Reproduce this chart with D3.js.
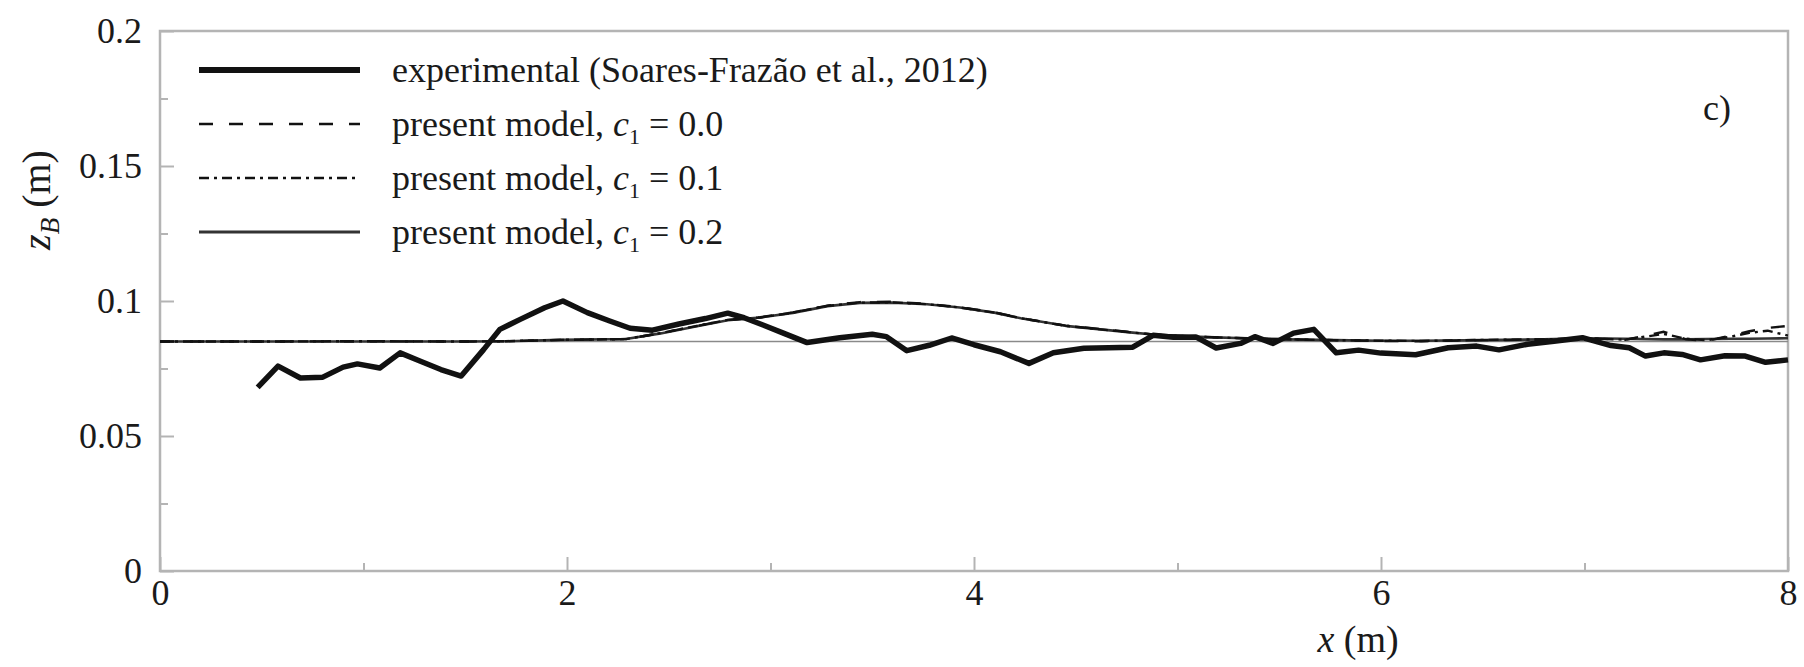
<!DOCTYPE html>
<html>
<head>
<meta charset="utf-8">
<script src="https://cdn.jsdelivr.net/npm/d3@7"></script>
<style>
  html, body { margin: 0; padding: 0; background: #fff; }
  svg { display: block; }
  text { font-family: "Liberation Serif", "Times New Roman", serif; fill: #1a1a1a; }
</style>
</head>
<body>
<svg id="chart" width="1804" height="667"></svg>
<script>
// Experimental bed profile (Soares-Frazão et al., 2012)
const expX = [0.48,0.58,0.69,0.80,0.90,0.97,1.08,1.18,1.28,1.38,1.48,1.59,1.67,1.77,1.89,1.98,2.10,2.21,2.31,2.42,2.55,2.68,2.79,2.87,2.96,3.06,3.18,3.34,3.50,3.57,3.67,3.78,3.89,4.00,4.13,4.27,4.39,4.54,4.78,4.88,4.98,5.09,5.19,5.31,5.38,5.47,5.57,5.67,5.78,5.89,6.00,6.17,6.33,6.47,6.58,6.72,6.85,6.99,7.13,7.22,7.30,7.39,7.48,7.57,7.69,7.79,7.89,8.00];
const expZ = [0.0680,0.0759,0.0715,0.0718,0.0755,0.0767,0.0752,0.0808,0.0777,0.0746,0.0722,0.0820,0.0895,0.0932,0.0975,0.1000,0.0957,0.0926,0.0899,0.0892,0.0915,0.0935,0.0955,0.0938,0.0912,0.0882,0.0846,0.0864,0.0877,0.0868,0.0816,0.0836,0.0863,0.0838,0.0812,0.0769,0.0808,0.0825,0.0829,0.0873,0.0866,0.0867,0.0826,0.0843,0.0868,0.0843,0.0881,0.0895,0.0808,0.0818,0.0807,0.0801,0.0827,0.0833,0.0819,0.0840,0.0851,0.0864,0.0835,0.0827,0.0796,0.0808,0.0802,0.0782,0.0797,0.0796,0.0773,0.0782];

// Model results for three values of c1
const modelX  = [0,0.50,1.00,1.50,1.70,1.97,2.29,2.46,2.62,2.79,2.95,3.11,3.28,3.44,3.60,3.77,3.93,4.10,4.23,4.45,4.78,4.88,5.11,5.44,5.77,6.00,6.20,6.50,6.80,7.00,7.20,7.39,7.50,7.60,7.72,7.81,7.90,8.00];
const modelC0 = [0.0850,0.0850,0.0851,0.0850,0.0851,0.0856,0.0859,0.0881,0.0905,0.0930,0.0940,0.0958,0.0983,0.0996,0.0997,0.0989,0.0977,0.0958,0.0937,0.0909,0.0884,0.0876,0.0867,0.0860,0.0855,0.0852,0.0851,0.0855,0.0857,0.0863,0.0856,0.0886,0.0858,0.0852,0.0872,0.0888,0.0900,0.0908];
const modelC1 = [0.0850,0.0850,0.0851,0.0850,0.0851,0.0856,0.0859,0.0881,0.0905,0.0930,0.0939,0.0957,0.0982,0.0994,0.0995,0.0988,0.0976,0.0957,0.0936,0.0908,0.0883,0.0876,0.0867,0.0859,0.0855,0.0853,0.0852,0.0856,0.0858,0.0862,0.0857,0.0878,0.0860,0.0855,0.0868,0.0882,0.0890,0.0872];
const modelC2 = [0.0850,0.0850,0.0850,0.0850,0.0851,0.0856,0.0859,0.0880,0.0904,0.0929,0.0939,0.0956,0.0981,0.0993,0.0994,0.0988,0.0976,0.0957,0.0936,0.0908,0.0883,0.0876,0.0867,0.0859,0.0855,0.0853,0.0853,0.0855,0.0858,0.0862,0.0860,0.0858,0.0858,0.0859,0.0860,0.0860,0.0861,0.0862];

// Initial bed level
const bedX = [0, 8];
const bedZ = [0.085, 0.085];

const xTicks = [0, 2, 4, 6, 8];
const xMinor = [1, 3, 5, 7];
const yTicks = [0, 0.05, 0.1, 0.15, 0.2];
const yMinor = [0.025, 0.075, 0.125, 0.175];
const yTickLabels = ["0", "0.05", "0.1", "0.15", "0.2"];

const legendLabels = [
  { main: "experimental (Soares-Frazão et al., 2012)" },
  { main: "present model, ", c: "0.0" },
  { main: "present model, ", c: "0.1" },
  { main: "present model, ", c: "0.2" }
];

const svg = d3.select("#chart");
const plotLeft = 160, plotRight = 1788, plotTop = 31, plotBottom = 571;

const x = d3.scaleLinear().domain([0, 8]).range([plotLeft, plotRight]);
const y = d3.scaleLinear().domain([0, 0.2]).range([plotBottom, plotTop]);

const frameColor = "#b4b4b4";
const serif = "'Liberation Serif', 'Times New Roman', serif";
const fs = 36;

// Plot frame
svg.append("rect")
  .attr("x", plotLeft).attr("y", plotTop)
  .attr("width", plotRight - plotLeft).attr("height", plotBottom - plotTop)
  .attr("fill", "none").attr("stroke", frameColor).attr("stroke-width", 2.5);

// Axes with inward ticks
const gx = svg.append("g").attr("transform", `translate(0,${plotBottom})`)
  .call(d3.axisBottom(x).tickValues(xTicks).tickFormat(d3.format("d")).tickSize(-14).tickPadding(8));
const gxm = svg.append("g").attr("transform", `translate(0,${plotBottom})`)
  .call(d3.axisBottom(x).tickValues(xMinor).tickFormat("").tickSize(-8));
const gy = svg.append("g").attr("transform", `translate(${plotLeft},0)`)
  .call(d3.axisLeft(y).tickValues(yTicks).tickFormat((d, i) => yTickLabels[i]).tickSize(-14).tickPadding(18));
const gym = svg.append("g").attr("transform", `translate(${plotLeft},0)`)
  .call(d3.axisLeft(y).tickValues(yMinor).tickFormat("").tickSize(-8));

[gx, gxm, gy, gym].forEach(g => {
  g.attr("font-family", serif).attr("font-size", fs);
  g.select(".domain").remove();
  g.selectAll(".tick line").attr("stroke", frameColor).attr("stroke-width", 2);
  g.selectAll(".tick text").style("font-family", serif).style("font-size", fs + "px").attr("fill", "#1a1a1a");
});

// Data lines
const line = d3.line().x(d => x(d[0])).y(d => y(d[1]));
const zip = (a, b) => a.map((v, i) => [v, b[i]]);

svg.append("path").datum(zip(bedX, bedZ)).attr("d", line)
  .attr("fill", "none").attr("stroke", "#8a8a8a").attr("stroke-width", 1.5);

const series = [
  { data: zip(modelX, modelC2), stroke: "#333", width: 2.6, dash: null },
  { data: zip(modelX, modelC1), stroke: "#111", width: 2.4, dash: "10,5,3,5" },
  { data: zip(modelX, modelC0), stroke: "#111", width: 2.4, dash: "14,16" },
  { data: zip(expX, expZ), stroke: "#111", width: 5.5, dash: null }
];
series.forEach(s => {
  svg.append("path").datum(s.data).attr("d", line)
    .attr("fill", "none").attr("stroke", s.stroke).attr("stroke-width", s.width)
    .attr("stroke-linejoin", "round")
    .attr("stroke-dasharray", s.dash);
});

// Legend
const legendStyles = [
  { stroke: "#111", width: 6, dash: null },
  { stroke: "#111", width: 2.6, dash: "14,16" },
  { stroke: "#111", width: 2.6, dash: "10,5,3,5" },
  { stroke: "#333", width: 3, dash: null }
];
const rowY = [70, 124, 178, 232];
legendLabels.forEach((lab, i) => {
  const st = legendStyles[i];
  svg.append("line").attr("x1", 199).attr("x2", 360).attr("y1", rowY[i]).attr("y2", rowY[i])
    .attr("stroke", st.stroke).attr("stroke-width", st.width).attr("stroke-dasharray", st.dash);
  const t = svg.append("text").attr("x", 392).attr("y", rowY[i] + 12).style("font-size", fs + "px");
  t.append("tspan").text(lab.main);
  if (lab.c) {
    t.append("tspan").style("font-style", "italic").text("c");
    t.append("tspan").attr("dy", 8).style("font-size", "22px").text("1");
    t.append("tspan").attr("dy", -8).text(" = " + lab.c);
  }
});

// Panel tag
svg.append("text").attr("x", 1703).attr("y", 120).style("font-size", fs + "px").text("c)");

// Axis titles
const xt = svg.append("text").attr("x", 1358).attr("y", 652).attr("text-anchor", "middle").style("font-size", "38px");
xt.append("tspan").style("font-style", "italic").text("x");
xt.append("tspan").text(" (m)");

const yt = svg.append("text").attr("transform", "translate(50,200) rotate(-90)").attr("text-anchor", "middle").style("font-size", "40px");
yt.append("tspan").style("font-style", "italic").text("z");
yt.append("tspan").attr("dy", 9).style("font-style", "italic").style("font-size", "27px").text("B");
yt.append("tspan").attr("dy", -9).text(" (m)");
</script>
</body>
</html>
